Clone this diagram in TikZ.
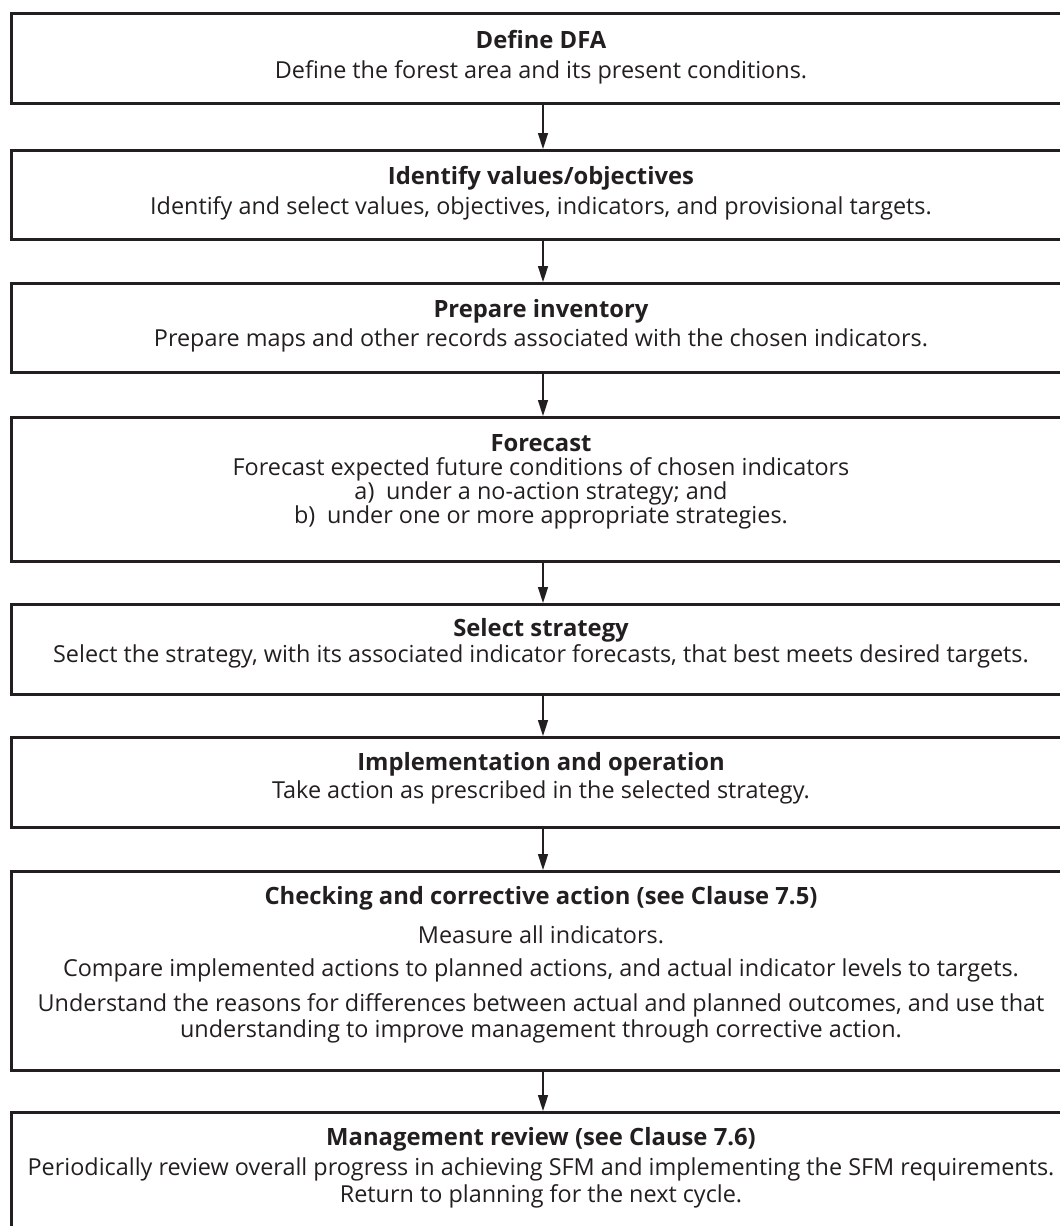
\documentclass[tikz,border=0pt]{standalone}
\usepackage{fontspec}
\setmainfont{Open Sans}
\usetikzlibrary{arrows.meta}
\definecolor{ink}{HTML}{231F20}
\tikzset{
  x=1pt,y=-1pt,
  box/.style={draw=ink,line width=2.6pt,minimum width=1062pt,inner sep=0pt,anchor=north west},
  head/.style={font=\bfseries\fontsize{23.8}{26}\selectfont,text=ink,inner sep=0pt},
  body/.style={font=\fontsize{23.4}{26}\selectfont,text=ink,inner sep=0pt},
  flow/.style={draw=ink,line width=1.5pt,-{Triangle[length=16pt,width=10pt]}}
}
\begin{document}
\begin{tikzpicture}
\useasboundingbox (0,0) rectangle (1060,1226);
\clip (0,0) rectangle (1060,1226);
% boxes
\node[box,minimum height=90pt] (b1) at (10,12) {};
\node[box,minimum height=89pt] (b2) at (10,149) {};
\node[box,minimum height=89pt] (b3) at (10,282) {};
\node[box,minimum height=144pt] (b4) at (10,416) {};
\node[box,minimum height=90pt] (b5) at (10,603) {};
\node[box,minimum height=90pt] (b6) at (10,736) {};
\node[box,minimum height=199pt] (b7) at (10,870) {};
\node[box,minimum height=140pt] (b8) at (10,1111) {};
% texts
\node[head] (t1) at (541,40) {Define DFA};
\node[body] (s1) at (541,72) {Define the forest area and its present conditions.};
\node[head] (t2) at (541,178) {Identify values/objectives};
\node[body] (s2) at (541,208) {Identify and select values, objectives, indicators, and provisional targets.};
\node[head] (t3) at (541,311) {Prepare inventory};
\node[body] (s3) at (541,340) {Prepare maps and other records associated with the chosen indicators.};
\node[head] (t4) at (541,443) {Forecast};
\node[body] (s4a) at (541,469) {Forecast expected future conditions of chosen indicators};
\node[body] (s4b) at (541,493) {a)\enspace under a no-action strategy; and};
\node[body] (s4c) at (541,517) {b)\enspace under one or more appropriate strategies.};
\node[head] (t5) at (541,630) {Select strategy};
\node[body] (s5) at (541,656) {Select the strategy, with its associated indicator forecasts, that best meets desired targets.};
\node[head] (t6) at (541,764) {Implementation and operation};
\node[body] (s6) at (541,792) {Take action as prescribed in the selected strategy.};
\node[head] (t7) at (541,898) {Checking and corrective action (see Clause 7.5)};
\node[body] (s7a) at (541,935) {Measure all indicators.};
\node[body] (s7b) at (541,970) {Compare implemented actions to planned actions, and actual indicator levels to targets.};
\node[body] (s7c) at (541,1005) {Understand the reasons for differences between actual and planned outcomes, and use that};
\node[body] (s7d) at (541,1031) {understanding to improve management through corrective action.};
\node[head] (t8) at (541,1139) {Management review (see Clause 7.6)};
\node[body] (s8a) at (541,1169) {Periodically review overall progress in achieving SFM and implementing the SFM requirements.};
\node[body] (s8b) at (541,1196) {Return to planning for the next cycle.};
% arrows
\coordinate (ax) at (543,0);
\draw[flow] (b1.south -| ax) -- (b2.north -| ax);
\draw[flow] (b2.south -| ax) -- (b3.north -| ax);
\draw[flow] (b3.south -| ax) -- (b4.north -| ax);
\draw[flow] (b4.south -| ax) -- (b5.north -| ax);
\draw[flow] (b5.south -| ax) -- (b6.north -| ax);
\draw[flow] (b6.south -| ax) -- (b7.north -| ax);
\draw[flow] (b7.south -| ax) -- (b8.north -| ax);
\end{tikzpicture}
\end{document}
